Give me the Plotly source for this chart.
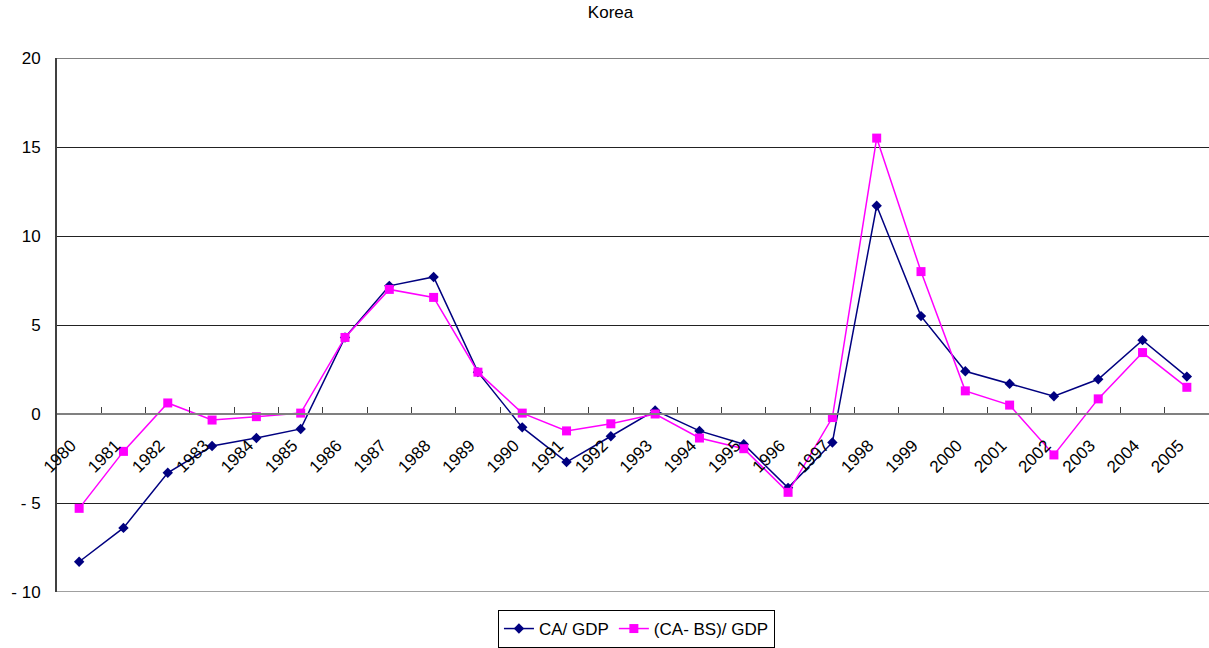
import plotly.graph_objects as go

years = [str(y) for y in range(1980, 2006)]
ca_gdp = [-8.3, -6.4, -3.3, -1.8, -1.35, -0.84, 4.3, 7.2, 7.7, 2.35, -0.75, -2.7, -1.25,
          0.2, -0.95, -1.7, -4.15, -1.6, 11.7, 5.5, 2.4, 1.7, 1.0, 1.95, 4.15, 2.1]
cabs_gdp = [-5.3, -2.1, 0.62, -0.34, -0.15, 0.05, 4.3, 7.0, 6.55, 2.35, 0.05, -0.95, -0.55,
            0.0, -1.35, -1.95, -4.4, -0.2, 15.5, 8.0, 1.3, 0.5, -2.3, 0.85, 3.45, 1.5]
y_tickvals = [-10, -5, 0, 5, 10, 15, 20]
y_ticktext = ["- 10", "- 5", "0", "5", "10", "15", "20"]

FONT = "Liberation Sans, Arial, sans-serif"

fig = go.Figure()
fig.add_trace(go.Scatter(
    x=years, y=ca_gdp, name="CA/ GDP", mode="lines+markers",
    line=dict(color="#000080", width=1.5),
    marker=dict(symbol="diamond", size=8, color="#000080"),
))
fig.add_trace(go.Scatter(
    x=years, y=cabs_gdp, name="(CA- BS)/ GDP", mode="lines+markers",
    line=dict(color="#FF00FF", width=1.5),
    marker=dict(symbol="square", size=9, color="#FF00FF"),
))

fig.update_layout(
    width=1209, height=648,
    margin=dict(l=57, r=0, t=58, b=55),
    paper_bgcolor="white", plot_bgcolor="white",
    font=dict(family=FONT, size=17, color="black"),
    title=dict(text="Korea", x=0.505, xanchor="center", y=0.981, yanchor="middle",
               font=dict(family=FONT, size=17, color="black")),
    showlegend=True,
    legend=dict(orientation="h", x=0.503, xanchor="center", y=-0.069, yanchor="middle",
                bordercolor="black", borderwidth=1, bgcolor="white",
                font=dict(family=FONT, size=17), tracegroupgap=0),
    xaxis=dict(
        type="category", anchor="free", position=1/3,
        showline=True, linecolor="#808080", linewidth=2,
        showgrid=False, ticks="inside", ticklen=6, tickcolor="#404040",
        tickson="boundaries", tickangle=-45,
        ticklabelshift=-8, ticklabelstandoff=14,
        tickfont=dict(family=FONT, size=17), range=[-0.5, 25.5],
    ),
    yaxis=dict(
        range=[-10, 20], tickvals=y_tickvals, ticktext=y_ticktext,
        showgrid=True, gridcolor="#222222", gridwidth=1, zeroline=False,
        showline=True, linecolor="#404040", linewidth=2,
        ticks="", ticklabelstandoff=11, tickfont=dict(family=FONT, size=17),
    ),
    shapes=[
        dict(type="line", xref="paper", yref="y", x0=0, x1=1, y0=20, y1=20,
             line=dict(color="#808080", width=2), layer="above"),
        dict(type="line", xref="paper", yref="y", x0=0, x1=1, y0=-10, y1=-10,
             line=dict(color="#A0A0A0", width=2), layer="above"),
    ],
)

fig.write_html("out.html")
